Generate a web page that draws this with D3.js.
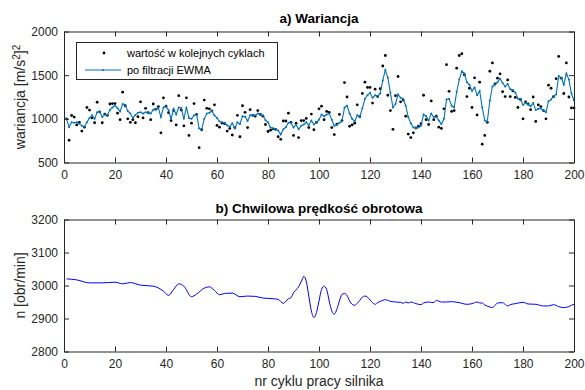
<!DOCTYPE html>
<html lang="pl">
<head>
<meta charset="utf-8">
<title>Wariancja i prędkość obrotowa</title>
<script src="https://cdn.jsdelivr.net/npm/d3@7"></script>
<style>
  body { margin: 0; background: #fff; }
  svg { font-family: Arial, "Liberation Sans", sans-serif; }
  .tick text { font-size: 12px; fill: #262626; }
  .tick line, .domain { stroke: #262626; }
</style>
</head>
<body>
<svg width="585" height="390"></svg>
<script>

// --- data ---
// a) variance in each cycle (black dots), cycles 1..200
var varRaw = [
  1000, 755, 1038, 1020, 930, 960, 860, 905, 1130, 1100,
  1010, 955, 1190, 1080, 955, 1055, 1040, 1170, 1175, 1175,
  1065, 990, 1305, 1150, 1000, 960, 990, 955, 1025, 1195,
  1010, 1120, 1070, 990, 1170, 1110, 1140, 840, 1240, 1145,
  1070, 980, 1095, 930, 1265, 1100, 920, 1240, 810, 950,
  1175, 1050, 670, 875, 1215, 1120, 1115, 1090, 1160, 925,
  905, 950, 945, 860, 890, 815, 900, 1040, 795, 1150,
  1075, 900, 1105, 1040, 1030, 1095, 1050, 1030, 935, 855,
  870, 885, 880, 795, 765, 975, 975, 1065, 960, 810,
  950, 785, 980, 980, 1005, 900, 1055, 875, 960, 1115,
  1145, 990, 1085, 1075, 900, 820, 940, 1050, 980, 1415,
  1250, 915, 930, 950, 1160, 1025, 1290, 1420, 1360, 1360,
  1180, 1340, 1255, 1345, 1605, 1725, 1270, 1095, 880, 1265,
  1485, 1195, 1215, 1030, 825, 785, 840, 895, 915, 945,
  1270, 990, 935, 1205, 990, 1030, 905, 890, 1115, 1620,
  1315, 1085, 1095, 1580, 1725, 1745, 1505, 1255, 1350, 1130,
  1470, 1045, 1420, 710, 810, 960, 1545, 1640, 1400, 1465,
  1515, 1310, 1255, 1445, 1255, 1320, 1245, 1130, 1220, 1000,
  1195, 1170, 1105, 1250, 970, 1160, 1140, 1095, 1000, 1385,
  1350, 1255, 1460, 1715, 1465, 1290, 1640, 1250, 1125, 1125
];

// a) the EWMA filtered curve (blue), cycles 1..200
var varEwma = [
  1000, 905, 960, 955, 960, 945, 920, 910, 960, 1010,
  1040, 1000, 1075, 1080, 1020, 1050, 1045, 1100, 1130, 1155,
  1120, 1085, 1170, 1160, 1090, 1060, 1010, 1045, 1070, 1075,
  1060, 1075, 1070, 1060, 1105, 1110, 1125, 1020, 1130, 1140,
  1100, 1000, 1115, 1050, 1130, 1125, 1000, 1130, 1010, 1000,
  1040, 1050, 890, 880, 1000, 1060, 1070, 1090, 1040, 1010,
  970, 960, 955, 925, 910, 950, 890, 960, 940, 1030,
  1025, 975, 1040, 1040, 1040, 1060, 1050, 1040, 985, 960,
  900, 890, 880, 865, 820, 880, 905, 955, 955, 900,
  935, 880, 920, 935, 960, 925, 980, 935, 960, 990,
  1050, 1030, 1050, 1060, 990, 920, 930, 955, 970, 1130,
  1150, 1060, 1000, 970, 1040, 1025, 1120, 1230, 1270, 1300,
  1240, 1270, 1260, 1290, 1440, 1560, 1470, 1300, 1130, 1170,
  1280, 1240, 1230, 1150, 1020, 950, 900, 895, 900, 920,
  1050, 1030, 980, 1060, 1020, 1025, 980, 940, 1000, 1220,
  1230, 1150, 1130, 1310, 1450, 1545, 1520, 1420, 1390, 1320,
  1360, 1270, 1320, 1130, 980, 970, 1210, 1370, 1390, 1420,
  1460, 1410, 1370, 1400, 1340, 1330, 1300, 1230, 1230, 1160,
  1180, 1165, 1145, 1180, 1100, 1115, 1120, 1095, 1075, 1200,
  1220, 1260, 1280, 1490, 1470, 1390, 1520, 1450, 1290, 1210
];

// b) instantaneous rotational speed
var speedCycle = [
  1, 5, 10, 15, 20, 23, 26, 30, 35, 39, 41, 43, 45, 47, 50, 52, 55, 57, 59, 61,
  63, 66, 69, 72, 75, 78, 82, 84, 86, 88, 89, 90, 92, 93.5, 94, 95, 96, 97, 98, 99,
  100, 101, 102, 103, 104, 105, 106, 107, 108, 109, 110, 111, 112, 113, 114, 115, 116, 117, 118, 119,
  120, 121, 122, 123, 124, 125, 126, 128, 130, 132, 133, 134, 135, 136, 138, 140, 141, 143, 145, 146,
  148, 150, 152, 155, 158, 160, 162, 163, 164, 165, 167, 168, 169, 170, 172, 173, 174, 175, 177, 180,
  182, 185, 188, 190, 192, 194, 196, 197, 198, 199, 200
];
var speedValue = [
  3020, 3017, 3008, 3008, 3010, 3005, 3009, 3001, 2998, 2983, 2970, 2988, 3005, 2998, 2966, 2974, 2992, 2996, 2985, 2972,
  2976, 2977, 2966, 2968, 2967, 2962, 2960, 2958, 2946, 2960, 2963, 2978, 2996, 3020, 3028, 3013, 2968, 2923, 2903, 2918,
  2953, 2988, 2998, 2988, 2953, 2923, 2913, 2928, 2953, 2973, 2976, 2970, 2953, 2943, 2940, 2946, 2955, 2965, 2968, 2965,
  2956, 2948, 2943, 2948, 2952, 2955, 2957, 2952, 2950, 2949, 2946, 2950, 2947, 2950, 2945, 2942, 2947, 2950, 2948, 2955,
  2950, 2950, 2951, 2948, 2943, 2945, 2950, 2947, 2947, 2941, 2935, 2933, 2940, 2947, 2948, 2943, 2938, 2942, 2945, 2949,
  2944, 2943, 2938, 2938, 2942, 2936, 2933, 2934, 2936, 2940, 2943
];

var xTicks = [0, 20, 40, 60, 80, 100, 120, 140, 160, 180, 200];
var varTicks = [500, 1000, 1500, 2000];
var speedTicks = [2800, 2900, 3000, 3100, 3200];
var legendLabels = ["wartość w kolejnych cyklach", "po filtracji EWMA"];

var svg = d3.select("svg");
var left = 64, right = 574;
var blue = "#0072bd";
var fmt = d3.format("d");

var x = d3.scaleLinear().domain([0, 200]).range([left, right]);
var yVar = d3.scaleLinear().domain([500, 2000]).range([162.5, 31.5]);
var ySpeed = d3.scaleLinear().domain([2800, 3200]).range([351.5, 219.5]);

// draws a MATLAB style box with inward ticks
function drawBox(y, yTicks, top, bottom) {
  var g = svg.append("g");
  g.append("g")
      .attr("transform", "translate(0," + bottom + ")")
      .call(d3.axisBottom(x).tickValues(xTicks).tickFormat(fmt).tickSize(-5).tickPadding(8).tickSizeOuter(0));
  g.append("g")
      .attr("transform", "translate(0," + top + ")")
      .call(d3.axisTop(x).tickValues(xTicks).tickSize(-5).tickSizeOuter(0).tickFormat(""));
  g.append("g")
      .attr("transform", "translate(" + left + ",0)")
      .call(d3.axisLeft(y).tickValues(yTicks).tickFormat(fmt).tickSize(-5).tickPadding(6).tickSizeOuter(0));
  g.append("g")
      .attr("transform", "translate(" + right + ",0)")
      .call(d3.axisRight(y).tickValues(yTicks).tickSize(-5).tickSizeOuter(0).tickFormat(""));
  g.selectAll(".domain").attr("stroke-width", 1);
  return g;
}

// ---- a) Wariancja ----
var cycles = d3.range(1, 201);

svg.append("g").selectAll("circle")
  .data(varRaw)
  .enter().append("circle")
    .attr("cx", function(d, i) { return x(cycles[i]); })
    .attr("cy", function(d) { return yVar(d); })
    .attr("r", 1.4)
    .attr("fill", "#000");

var ewmaLine = d3.line()
    .x(function(d, i) { return x(cycles[i]); })
    .y(function(d) { return yVar(d); });

svg.append("path")
    .datum(varEwma)
    .attr("d", ewmaLine)
    .attr("fill", "none")
    .attr("stroke", blue)
    .attr("stroke-width", 1.1);

svg.append("g").selectAll("circle")
  .data(varEwma)
  .enter().append("circle")
    .attr("cx", function(d, i) { return x(cycles[i]); })
    .attr("cy", function(d) { return yVar(d); })
    .attr("r", 1)
    .attr("fill", blue);

drawBox(yVar, varTicks, 31.5, 162.5);

svg.append("text")
    .attr("x", (left + right) / 2).attr("y", 23)
    .attr("text-anchor", "middle")
    .attr("font-size", 13.5).attr("font-weight", "bold")
    .text("a) Wariancja");

var yl = svg.append("text")
    .attr("transform", "translate(25," + yVar(1250) + ") rotate(-90)")
    .attr("text-anchor", "middle")
    .attr("font-size", 14).attr("fill", "#262626");
yl.append("tspan").text("wariancja [m/s");
yl.append("tspan").attr("font-size", 10).attr("dy", -5).text("2");
yl.append("tspan").attr("dy", 5).text("]");
yl.append("tspan").attr("font-size", 10).attr("dy", -5).text("2");

// legend
var lg = svg.append("g");
lg.append("rect")
    .attr("x", 76.5).attr("y", 42.5).attr("width", 201).attr("height", 37)
    .attr("fill", "#fff").attr("stroke", "#262626").attr("stroke-width", 1);
lg.append("circle").attr("cx", 104).attr("cy", 53).attr("r", 1.4).attr("fill", "#000");
lg.append("line")
    .attr("x1", 85).attr("x2", 121).attr("y1", 70).attr("y2", 70)
    .attr("stroke", blue).attr("stroke-width", 1.1);
lg.append("circle").attr("cx", 103).attr("cy", 70).attr("r", 1).attr("fill", blue);
lg.selectAll("text")
  .data(legendLabels)
  .enter().append("text")
    .attr("x", 127)
    .attr("y", function(d, i) { return 57 + i * 17; })
    .attr("font-size", 11)
    .attr("fill", "#000")
    .text(function(d) { return d; });

// ---- b) Chwilowa prędkość obrotowa ----
var speedLine = d3.line()
    .x(function(d, i) { return x(speedCycle[i]); })
    .y(function(d) { return ySpeed(d); })
    .curve(d3.curveMonotoneX);

svg.append("path")
    .datum(speedValue)
    .attr("d", speedLine)
    .attr("fill", "none")
    .attr("stroke", "#0000ff")
    .attr("stroke-width", 1);

drawBox(ySpeed, speedTicks, 219.5, 351.5);

svg.append("text")
    .attr("x", (left + right) / 2).attr("y", 213)
    .attr("text-anchor", "middle")
    .attr("font-size", 13.5).attr("font-weight", "bold")
    .text("b) Chwilowa prędkość obrotowa");

svg.append("text")
    .attr("transform", "translate(25," + ySpeed(3000) + ") rotate(-90)")
    .attr("text-anchor", "middle")
    .attr("font-size", 14).attr("fill", "#262626")
    .text("n [obr/min]");

svg.append("text")
    .attr("x", (left + right) / 2).attr("y", 386)
    .attr("text-anchor", "middle")
    .attr("font-size", 14).attr("fill", "#262626")
    .text("nr cyklu pracy silnika");

</script>
</body>
</html>
